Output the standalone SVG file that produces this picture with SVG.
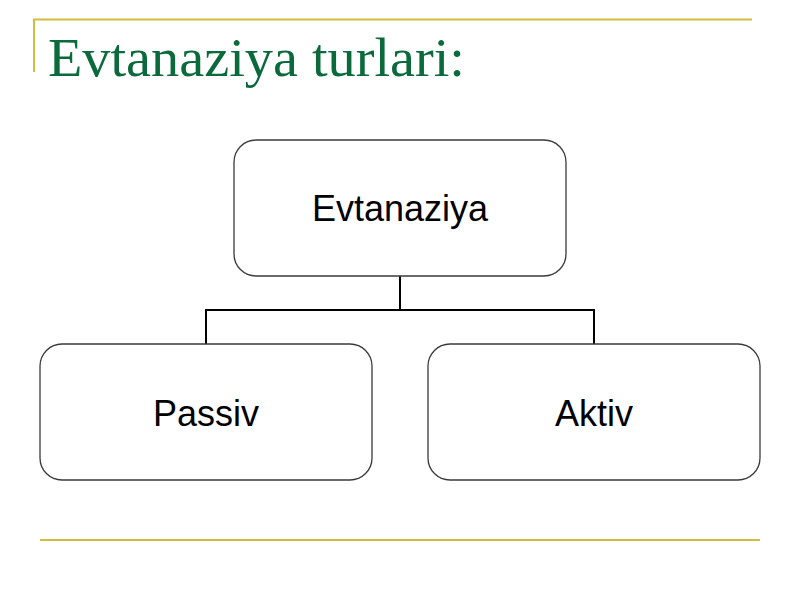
<svg xmlns="http://www.w3.org/2000/svg" width="800" height="600" viewBox="0 0 800 600">
<style>
.rule{stroke:#d0bd3e;stroke-width:2;fill:none}
.box{fill:#ffffff;stroke:#3a3a3a;stroke-width:1.3}
.lbl{font-family:"Liberation Sans",Arial,sans-serif;font-size:36px;fill:#000;text-anchor:middle}
.title{font-family:"Liberation Serif","Times New Roman",serif;font-size:54px;fill:#0b6a3c}
.conn{stroke:#000;stroke-width:2;fill:none}
</style>
<rect width="800" height="600" fill="#ffffff"/>
<g id="frame">
<line class="rule" x1="33" y1="19.5" x2="752" y2="19.5"/>
<line class="rule" x1="34" y1="19" x2="34" y2="72"/>
<line class="rule" x1="40" y1="540" x2="760" y2="540"/>
</g>
<text class="title" x="48" y="76" textLength="417" lengthAdjust="spacingAndGlyphs">Evtanaziya turlari:</text>
<g id="connectors">
<path class="conn" d="M400,276 V310 M206,344 V310 H594 V344"/>
</g>
<g id="node-evtanaziya">
<rect class="box" x="234" y="140" width="332" height="136" rx="22"/>
<text class="lbl" x="400" y="221">Evtanaziya</text>
</g>
<g id="node-passiv">
<rect class="box" x="40" y="344" width="332" height="136" rx="22"/>
<text class="lbl" x="206" y="426">Passiv</text>
</g>
<g id="node-aktiv">
<rect class="box" x="428" y="344" width="332" height="136" rx="22"/>
<text class="lbl" x="594" y="426">Aktiv</text>
</g>
</svg>
